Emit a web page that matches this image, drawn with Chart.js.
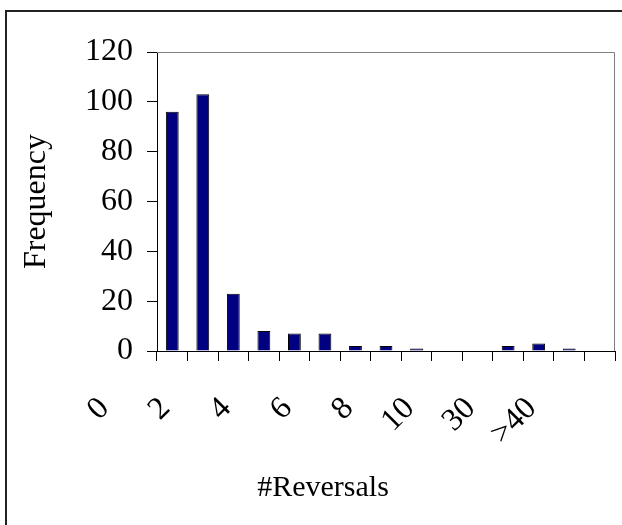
<!DOCTYPE html>
<html>
<head>
<meta charset="utf-8">
<script src="https://cdn.jsdelivr.net/npm/chart.js@4"></script>
<style>
  html, body { margin: 0; padding: 0; background: #fff; overflow: hidden; }
  #frame {
    position: absolute; left: 5px; top: 10px;
    width: 640px; height: 530px;
    border: 2px solid #222;
  }
  #wrap { position: relative; width: 652px; height: 528px; }
</style>
</head>
<body>
<div id="frame"><div id="wrap"><canvas id="histChart"></canvas></div></div>
<script>
const bins = ["0", "1", "2", "3", "4", "5", "6", "7", "8", "9", "10", "20", "30", "40", ">40"];
const frequency = [96, 103, 23, 8, 7, 7, 2, 2, 1, 0, 0, 2, 3, 1, 0];
const yTicks = [0, 20, 40, 60, 80, 100, 120];

const serif = "'Liberation Serif', 'Times New Roman', serif";

// gray frame on top/right of the plot area, like the Excel plot border
const plotFrame = {
  id: "plotFrame",
  beforeDatasetsDraw(chart) {
    const { ctx, chartArea: a } = chart;
    ctx.save();
    ctx.strokeStyle = "#808080";
    ctx.lineWidth = 1;
    ctx.beginPath();
    ctx.moveTo(a.left, a.top + 0.5);
    ctx.lineTo(a.right - 0.5, a.top + 0.5);
    ctx.lineTo(a.right - 0.5, a.bottom);
    ctx.stroke();
    ctx.restore();
  },
};

new Chart(document.getElementById("histChart"), {
  type: "bar",
  data: {
    labels: bins,
    datasets: [{
      label: "Frequency",
      data: frequency,
      backgroundColor: "#000080",
      borderColor: "#000000",
      borderWidth: 1,
      barPercentage: 0.42,
      categoryPercentage: 1,
    }],
  },
  options: {
    responsive: true,
    maintainAspectRatio: false,
    animation: false,
    layout: { padding: { top: 40, right: 44, bottom: 34, left: 24 } },
    plugins: {
      legend: { display: false },
      tooltip: { enabled: false },
      title: {
        display: true,
        position: "bottom",
        text: "#Reversals",
        color: "#000",
        font: { family: serif, size: 30, weight: "normal" },
        padding: 0,
      },
    },
    scales: {
      x: {
        grid: { offset: true, drawOnChartArea: false, color: "#000", tickLength: 10 },
        border: { color: "#000", width: 1 },
        ticks: {
          autoSkip: false,
          minRotation: 45,
          maxRotation: 45,
          padding: 29,
          labelOffset: -68,
          color: "#000",
          font: { family: serif, size: 32 },
          callback: (v, i) => (i % 2 === 0 ? bins[i] : ""),
        },
        afterFit: (s) => { s.height = 119; },
      },
      y: {
        min: 0,
        max: 120,
        afterBuildTicks: (s) => { s.ticks = yTicks.map((v) => ({ value: v })); },
        grid: { drawOnChartArea: false, color: "#000", tickLength: 10 },
        border: { color: "#000", width: 1 },
        ticks: { color: "#000", padding: 14, font: { family: serif, size: 32 } },
        title: {
          display: true,
          text: "Frequency",
          color: "#000",
          font: { family: serif, size: 32 },
          padding: { top: -14, bottom: 0 },
        },
        afterFit: (s) => { s.width = 126; },
      },
    },
  },
  plugins: [plotFrame],
});
</script>
</body>
</html>
